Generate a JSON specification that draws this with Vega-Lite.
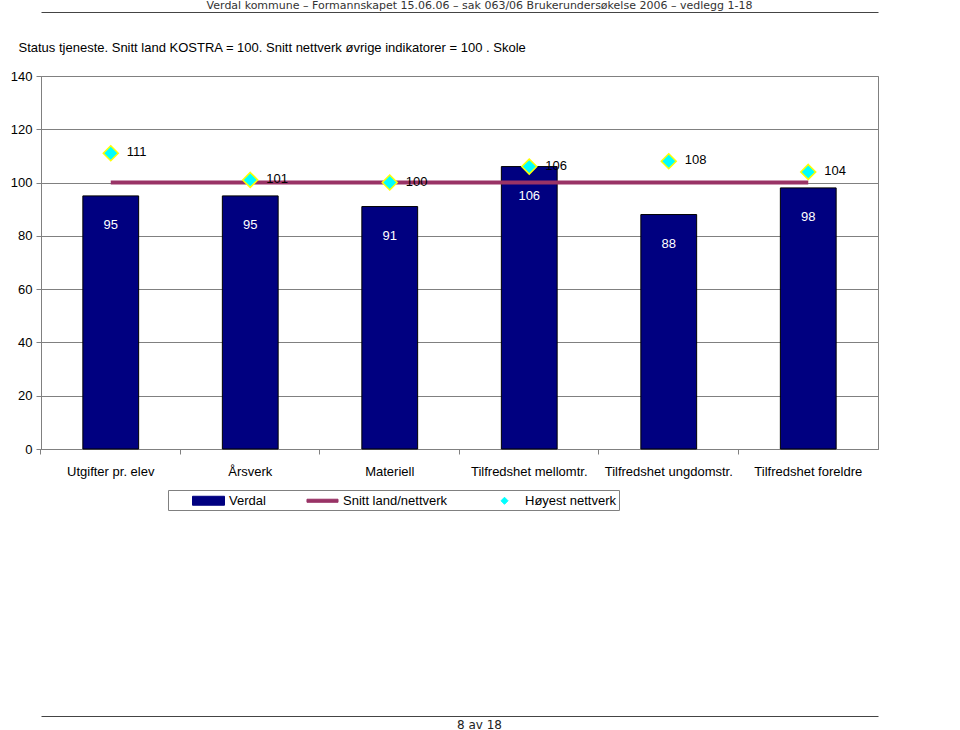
{
  "$schema": "https://vega.github.io/schema/vega-lite/v6.json",
  "width": 837,
  "height": 373,
  "autosize": {"type": "none"},
  "padding": {"left": 41, "top": 76, "right": 82, "bottom": 281},
  "background": "white",
  "title": {
    "text": "Verdal kommune – Formannskapet 15.06.06 – sak 063/06 Brukerundersøkelse 2006 – vedlegg 1-18",
    "anchor": "middle",
    "frame": "group",
    "dx": 20,
    "offset": 1,
    "font": "DejaVu Sans",
    "fontSize": 11,
    "fontWeight": "normal",
    "color": "#333333"
  },
  "data": {
    "values": [
      {"kategori": "Utgifter pr. elev", "verdal": 95, "snitt": 100, "hoyest": 111},
      {"kategori": "Årsverk", "verdal": 95, "snitt": 100, "hoyest": 101},
      {"kategori": "Materiell", "verdal": 91, "snitt": 100, "hoyest": 100},
      {"kategori": "Tilfredshet mellomtr.", "verdal": 106, "snitt": 100, "hoyest": 106},
      {"kategori": "Tilfredshet ungdomstr.", "verdal": 88, "snitt": 100, "hoyest": 108},
      {"kategori": "Tilfredshet foreldre", "verdal": 98, "snitt": 100, "hoyest": 104}
    ]
  },
  "resolve": {"axis": {"x": "independent"}},
  "layer": [
    {
      "mark": {"type": "bar", "stroke": "#000000", "strokeWidth": 1},
      "encoding": {
        "x": {
          "field": "kategori",
          "type": "nominal",
          "sort": null,
          "scale": {"paddingInner": 0.6, "paddingOuter": 0.3},
          "axis": {
            "title": "8 av 18",
            "titleX": 438,
            "titleY": 275,
            "titleAlign": "center",
            "titleBaseline": "middle",
            "titleFont": "DejaVu Sans",
            "titleFontSize": 12,
            "titleFontWeight": "normal",
            "titleColor": "#222222",
            "labelAngle": 0,
            "bandPosition": -0.75,
            "labelOverlap": false,
            "labelBound": false,
            "labelLimit": 0,
            "labelPadding": 11,
            "labelBaseline": "top",
            "labelFont": "Liberation Sans",
            "labelFontSize": 13,
            "labelColor": "#000000",
            "tickSize": 5,
            "tickColor": "#808080",
            "domainColor": "#808080"
          }
        },
        "y": {
          "field": "verdal",
          "type": "quantitative",
          "scale": {"domain": [0, 140], "nice": false},
          "axis": {
            "values": [0, 20, 40, 60, 80, 100, 120, 140],
            "title": "Status tjeneste. Snitt land KOSTRA = 100. Snitt nettverk øvrige indikatorer = 100 . Skole",
            "titleAngle": 0,
            "titleX": -23,
            "titleY": -29,
            "titleAlign": "left",
            "titleBaseline": "middle",
            "titleFont": "Liberation Sans",
            "titleFontSize": 13,
            "titleFontWeight": "normal",
            "titleColor": "#000000",
            "grid": true,
            "gridColor": "#808080",
            "gridWidth": 1,
            "domainColor": "#808080",
            "tickColor": "#808080",
            "tickSize": 5,
            "labelPadding": 4,
            "labelFont": "Liberation Sans",
            "labelFontSize": 13,
            "labelColor": "#000000"
          }
        },
        "color": {
          "datum": "Verdal",
          "type": "nominal",
          "scale": {
            "domain": ["Verdal", "Snitt land/nettverk", "Høyest nettverk"],
            "range": ["#000080", "#993366", "#00FFFF"]
          }
        }
      }
    },
    {
      "mark": {"type": "text", "color": "#FFFFFF", "dy": 29, "baseline": "middle", "font": "Liberation Sans", "fontSize": 13},
      "encoding": {
        "x": {"field": "kategori", "type": "nominal", "sort": null, "axis": null},
        "y": {"field": "verdal", "type": "quantitative"},
        "text": {"field": "verdal", "type": "quantitative"}
      }
    },
    {
      "mark": {"type": "line", "strokeWidth": 4},
      "encoding": {
        "x": {
          "field": "kategori",
          "type": "nominal",
          "sort": null,
          "axis": {"orient": "top", "offset": 64, "labels": false, "ticks": false, "grid": false, "title": null, "domainColor": "#444444", "domainWidth": 1}
        },
        "y": {"field": "snitt", "type": "quantitative"},
        "color": {"datum": "Snitt land/nettverk", "type": "nominal"}
      }
    },
    {
      "mark": {"type": "point", "filled": true, "size": 1156, "stroke": "#FFFF00", "strokeWidth": 1.5, "opacity": 1},
      "encoding": {
        "x": {
          "field": "kategori",
          "type": "nominal",
          "sort": null,
          "axis": {"orient": "bottom", "offset": 267, "labels": false, "ticks": false, "grid": false, "title": null, "domainColor": "#444444", "domainWidth": 1}
        },
        "y": {"field": "hoyest", "type": "quantitative"},
        "color": {"datum": "Høyest nettverk", "type": "nominal"},
        "shape": {
          "datum": "Høyest nettverk",
          "type": "nominal",
          "scale": {
            "domain": ["Verdal", "Snitt land/nettverk", "Høyest nettverk"],
            "range": ["M-2,-0.56H2V0.56H-2Z", "M-1.94,-0.19H1.94V0.19H-1.94Z", "M0,-0.44L0.44,0L0,0.44L-0.44,0Z"]
          }
        }
      }
    },
    {
      "mark": {"type": "text", "align": "left", "baseline": "middle", "dx": 16, "dy": -1, "color": "#000000", "font": "Liberation Sans", "fontSize": 13},
      "encoding": {
        "x": {"field": "kategori", "type": "nominal", "sort": null, "axis": null},
        "y": {"field": "hoyest", "type": "quantitative"},
        "text": {"field": "hoyest", "type": "quantitative"}
      }
    }
  ],
  "config": {
    "view": {"stroke": "#808080"},
    "font": "Liberation Sans",
    "legend": {
      "title": null,
      "orient": "none",
      "legendX": 127,
      "legendY": 414,
      "direction": "horizontal",
      "columns": 3,
      "columnPadding": 18,
      "padding": 2,
      "symbolOffset": 30,
      "strokeColor": "#808080",
      "symbolSize": 256,
      "symbolStrokeWidth": 1,
      "symbolOpacity": 1,
      "labelOffset": 12,
      "labelFont": "Liberation Sans",
      "labelFontSize": 13,
      "labelColor": "#000000",
      "labelLimit": 0
    }
  }
}
